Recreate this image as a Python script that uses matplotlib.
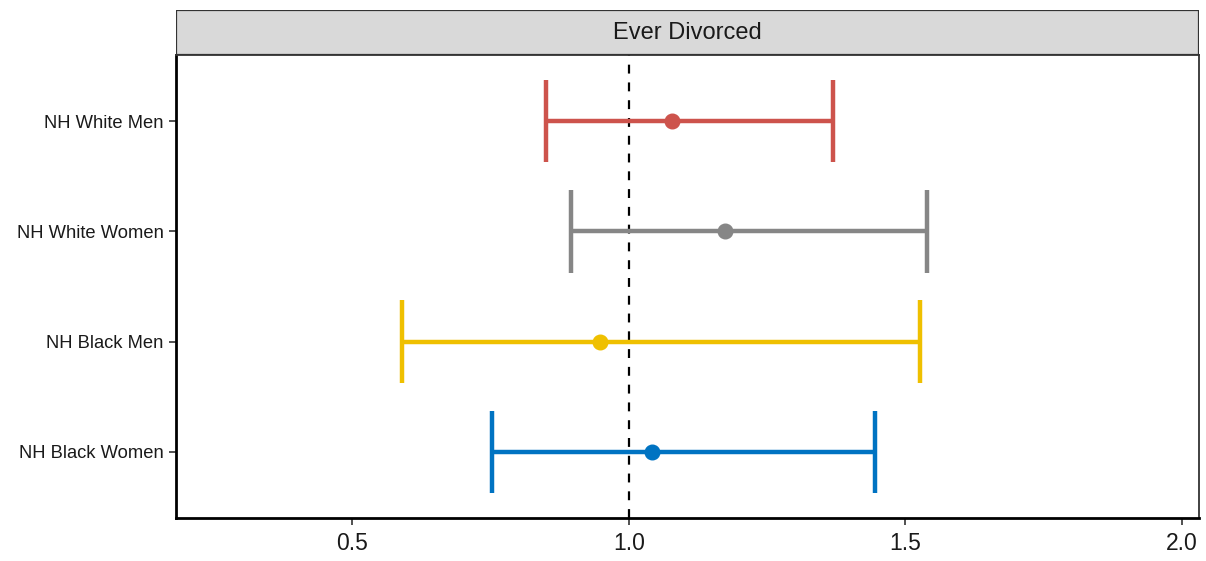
import numpy as np
import matplotlib.pyplot as plt
from matplotlib.patches import Rectangle

plt.rcParams['font.family'] = ['Liberation Sans', 'DejaVu Sans']

groups = ['NH White Men', 'NH White Women', 'NH Black Men', 'NH Black Women']
estimate = [1.078, 1.174, 0.948, 1.042]
lower = [0.850, 0.895, 0.590, 0.752]
upper = [1.369, 1.539, 1.526, 1.445]
colors = ['#CD534C', '#868686', '#EFC000', '#0073C2']
panel_title = 'Ever Divorced'

fig = plt.figure(figsize=(12.06, 5.61), dpi=100)
ax = fig.add_axes([0.1459, 0.0766, 0.8483, 0.8254])

ypos = np.arange(1, len(groups) + 1)
cap = 0.375
for y, est, lo, hi, c in zip(ypos, estimate, lower, upper, colors):
    ax.hlines(y, lo, hi, color=c, lw=3.2, zorder=3)
    ax.vlines([lo, hi], y - cap, y + cap, color=c, lw=3.2, zorder=3)
    ax.plot(est, y, 'o', color=c, ms=10.5, zorder=4)

ax.axvline(1.0, color='black', lw=1.6, ls=(0, (4, 4)), zorder=2)

ax.set_xlim(0.181, 2.031)
ax.set_ylim(4.6, 0.4)
ax.set_yticks(ypos)
ax.set_yticklabels(groups, fontsize=13.2, color='#1A1A1A')
ax.set_xticks([0.5, 1.0, 1.5, 2.0])
ax.set_xticklabels(['0.5', '1.0', '1.5', '2.0'], fontsize=16.5, color='#1A1A1A')
ax.tick_params(axis='both', length=5, width=1.2, color='#333333')
ax.tick_params(axis='y', pad=4)
ax.tick_params(axis='x', pad=5)

for side in ['top', 'right']:
    ax.spines[side].set_color('#333333')
    ax.spines[side].set_linewidth(1.3)
for side in ['left', 'bottom']:
    ax.spines[side].set_color('black')
    ax.spines[side].set_linewidth(2.0)

# facet strip
strip = fig.add_axes([0.1459, 0.902, 0.8483, 0.080])
strip.add_patch(Rectangle((0, 0), 1, 1, facecolor='#D9D9D9', edgecolor='#333333',
                          lw=1.6, transform=strip.transAxes))
strip.text(0.5, 0.5, panel_title, ha='center', va='center', fontsize=17, color='#1A1A1A')
strip.set_xticks([])
strip.set_yticks([])
for s in strip.spines.values():
    s.set_visible(False)

fig.savefig('out.png', dpi=100)
